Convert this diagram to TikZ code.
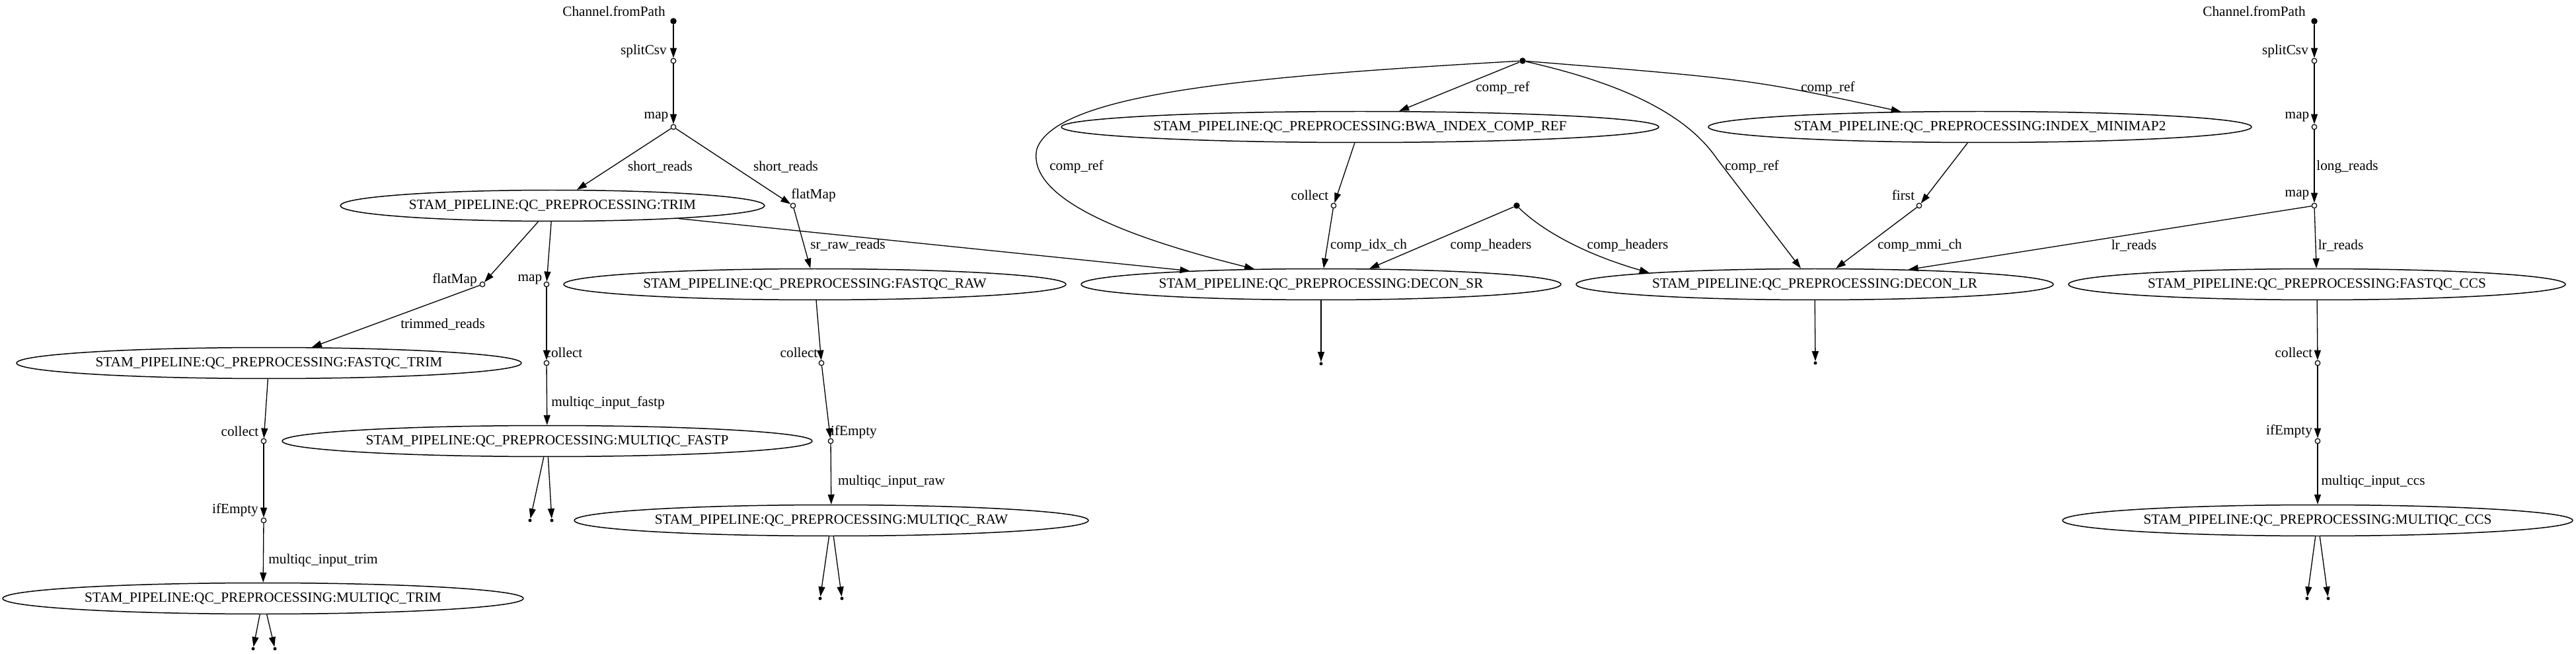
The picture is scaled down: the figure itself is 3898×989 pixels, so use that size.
\documentclass[tikz,border=0pt]{standalone}
\usepackage{fontspec}
\setmainfont{Liberation Serif}
\usetikzlibrary{shapes.geometric,arrows.meta}
\begin{document}
\begin{tikzpicture}[x=0.02cm,y=-0.02cm,
  every node/.style={font=\fontsize{12.1}{14}\selectfont},
  proc/.style={ellipse,draw,line width=0.85pt,minimum height=0.94cm,inner sep=0pt},
  src/.style={circle,fill,inner sep=0pt,minimum size=0.19cm},
  op/.style={circle,draw,line width=0.7pt,fill=white,inner sep=0pt,minimum size=0.15cm},
  term/.style={circle,fill,inner sep=0pt,minimum size=0.1cm},
  txt/.style={inner sep=0pt,anchor=center},
  conn/.style={line width=0.75pt,-{Triangle[length=0.3cm,width=0.2cm]}},
]
\useasboundingbox (0,0) rectangle (3898,989);

% ---------- left part ----------
\node[src] (s1) at (1019,32) {};
\node[op] (sp1) at (1019,92) {};
\node[op] (m1) at (1019,192) {};
\node[proc,minimum width=12.84cm] (trim) at (836,311) {STAM\_PIPELINE:QC\_PREPROCESSING:TRIM};
\node[op] (fm1) at (1200,311) {};
\node[op] (fm2) at (730,430) {};
\node[op] (m2) at (827,430) {};
\node[proc,minimum width=15.2cm] (fqraw) at (1233,430) {STAM\_PIPELINE:QC\_PREPROCESSING:FASTQC\_RAW};
\node[proc,minimum width=15.28cm] (fqtrim) at (407,549) {STAM\_PIPELINE:QC\_PREPROCESSING:FASTQC\_TRIM};
\node[op] (c2) at (827,549) {};
\node[op] (c4) at (1243,549) {};
\node[op] (c3) at (399,667) {};
\node[proc,minimum width=16.04cm] (mqfastp) at (828,667) {STAM\_PIPELINE:QC\_PREPROCESSING:MULTIQC\_FASTP};
\node[op] (ie4) at (1257,667) {};
\node[op] (ie3) at (399,787) {};
\node[term] (tf1) at (802,787) {};
\node[term] (tf2) at (835,787) {};
\node[proc,minimum width=15.56cm] (mqraw) at (1258,787) {STAM\_PIPELINE:QC\_PREPROCESSING:MULTIQC\_RAW};
\node[proc,minimum width=15.76cm] (mqtrim) at (398,905) {STAM\_PIPELINE:QC\_PREPROCESSING:MULTIQC\_TRIM};
\node[term] (tr1) at (1241,905) {};
\node[term] (tr2) at (1274,905) {};
\node[term] (tt1) at (383,981) {};
\node[term] (tt2) at (416,981) {};

% ---------- middle part ----------
\node[src] (sref) at (2304,92) {};
\node[proc,minimum width=18.08cm] (bwa) at (2058,192) {STAM\_PIPELINE:QC\_PREPROCESSING:BWA\_INDEX\_COMP\_REF};
\node[proc,minimum width=16.44cm] (mm2) at (2996,192) {STAM\_PIPELINE:QC\_PREPROCESSING:INDEX\_MINIMAP2};
\node[op] (c5) at (2018,311) {};
\node[src] (shd) at (2295,311) {};
\node[op] (fi) at (2904,311) {};
\node[proc,minimum width=14.52cm] (dsr) at (1999,430) {STAM\_PIPELINE:QC\_PREPROCESSING:DECON\_SR};
\node[proc,minimum width=14.44cm] (dlr) at (2746,430) {STAM\_PIPELINE:QC\_PREPROCESSING:DECON\_LR};
\node[term] (tsr) at (1999,550) {};
\node[term] (tlr) at (2747,549) {};

% ---------- right part ----------
\node[src] (s2) at (3502,32) {};
\node[op] (sp2) at (3502,92) {};
\node[op] (m3) at (3502,192) {};
\node[op] (m4) at (3502,311) {};
\node[proc,minimum width=15.04cm] (fqccs) at (3506,430) {STAM\_PIPELINE:QC\_PREPROCESSING:FASTQC\_CCS};
\node[op] (c6) at (3507,549) {};
\node[op] (ie6) at (3507,667) {};
\node[proc,minimum width=15.44cm] (mqccs) at (3507,787) {STAM\_PIPELINE:QC\_PREPROCESSING:MULTIQC\_CCS};
\node[term] (tc1) at (3491,905) {};
\node[term] (tc2) at (3523,905) {};

% ---------- operator labels ----------
\node[txt] (x1) at (929,17) {Channel.fromPath};
\node[txt] (x2) at (974,77) {splitCsv};
\node[txt] (x3) at (993,177) {map};
\node[txt] (x4) at (1231,295) {flatMap};
\node[txt] (x5) at (688,423) {flatMap};
\node[txt] (x6) at (802,423) {map};
\node[txt] (x7) at (853,533) {collect};
\node[txt] (x8) at (1209,533) {collect};
\node[txt] (x9) at (1292,653) {ifEmpty};
\node[txt] (x10) at (363,652) {collect};
\node[txt] (x11) at (356,771) {ifEmpty};
\node[txt] (x12) at (1982,295) {collect};
\node[txt] (x13) at (2880,295) {first};
\node[txt] (x14) at (3411,17) {Channel.fromPath};
\node[txt] (x15) at (3458,77) {splitCsv};
\node[txt] (x16) at (3476,177) {map};
\node[txt] (x17) at (3476,295) {map};
\node[txt] (x18) at (3471,533) {collect};
\node[txt] (x19) at (3464,652) {ifEmpty};

% ---------- edge labels ----------
\node[txt] (e1) at (999,252) {short\_reads};
\node[txt] (e2) at (1189,252) {short\_reads};
\node[txt] (e3) at (1283,370) {sr\_raw\_reads};
\node[txt] (e4) at (670,490) {trimmed\_reads};
\node[txt] (e5) at (920,609) {multiqc\_input\_fastp};
\node[txt] (e6) at (489,847) {multiqc\_input\_trim};
\node[txt] (e7) at (1349,728) {multiqc\_input\_raw};
\node[txt] (e8) at (3591,728) {multiqc\_input\_ccs};
\node[txt] (e9) at (2274,133) {comp\_ref};
\node[txt] (e10) at (2766,133) {comp\_ref};
\node[txt] (e11) at (1629,252) {comp\_ref};
\node[txt] (e12) at (2651,252) {comp\_ref};
\node[txt] (e13) at (2071,371) {comp\_idx\_ch};
\node[txt] (e14) at (2256,371) {comp\_headers};
\node[txt] (e15) at (2463,371) {comp\_headers};
\node[txt] (e16) at (2905,371) {comp\_mmi\_ch};
\node[txt] (e17) at (3552,252) {long\_reads};
\node[txt] (e18) at (3229,371) {lr\_reads};
\node[txt] (e19) at (3542,371) {lr\_reads};

% ---------- connectors ----------
\draw[conn] (s1) -- (sp1);
\draw[conn] (sp1) -- (m1);
\draw[conn] (m1) -- (trim);
\draw[conn] (m1) -- (fm1);
\draw[conn] (fm1) -- (fqraw);
\draw[conn] (trim) -- (dsr);
\draw[conn] (trim) -- (fm2);
\draw[conn] (trim) -- (m2);
\draw[conn] (fm2) -- (fqtrim);
\draw[conn] (m2) -- (c2);
\draw[conn] (c2) -- (mqfastp);
\draw[conn] (mqfastp) -- (tf1);
\draw[conn] (mqfastp) -- (tf2);
\draw[conn] (fqtrim) -- (c3);
\draw[conn] (c3) -- (ie3);
\draw[conn] (ie3) -- (mqtrim);
\draw[conn] (mqtrim) -- (tt1);
\draw[conn] (mqtrim) -- (tt2);
\draw[conn] (fqraw) -- (c4);
\draw[conn] (c4) -- (ie4);
\draw[conn] (ie4) -- (mqraw);
\draw[conn] (mqraw) -- (tr1);
\draw[conn] (mqraw) -- (tr2);

\coordinate (bendL) at (1569,225);
\coordinate (bendR) at (2598,240);
\draw[conn] (sref) -- (bwa);
\draw[conn] (sref) .. controls (2650,120) .. (mm2.169);
\draw[conn] (sref) .. controls (1900,115) and (1600,140) .. (bendL) .. controls (1550,310) and (1750,370) .. (dsr.167);
\draw[conn] (sref) .. controls (2450,125) and (2550,170) .. (bendR) -- (dlr.131);
\draw[conn] (bwa) -- (c5);
\draw[conn] (c5) -- (dsr);
\draw[conn] (shd) -- (dsr.18);
\draw[conn] (shd) .. controls (2335,350) and (2400,385) .. (dlr.176);
\draw[conn] (mm2) -- (fi);
\draw[conn] (fi) -- (dlr);
\draw[conn] (dsr) -- (tsr);
\draw[conn] (dlr) -- (tlr);

\draw[conn] (s2) -- (sp2);
\draw[conn] (sp2) -- (m3);
\draw[conn] (m3) -- (m4);
\draw[conn] (m4) -- (dlr);
\draw[conn] (m4) -- (fqccs);
\draw[conn] (fqccs) -- (c6);
\draw[conn] (c6) -- (ie6);
\draw[conn] (ie6) -- (mqccs);
\draw[conn] (mqccs) -- (tc1);
\draw[conn] (mqccs) -- (tc2);
\end{tikzpicture}
\end{document}
